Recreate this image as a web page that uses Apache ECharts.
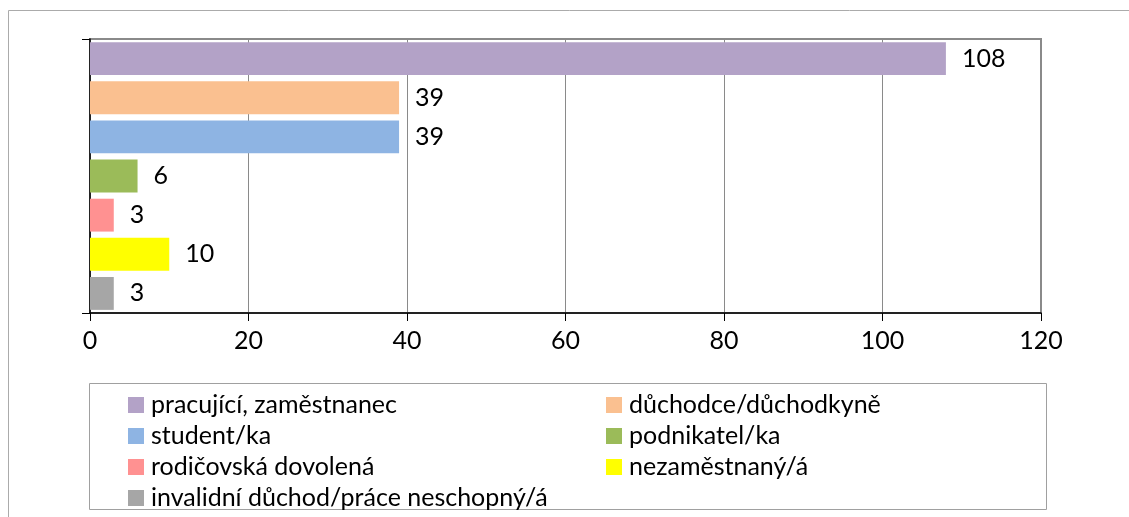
<!DOCTYPE html>
<html><head><meta charset="utf-8">
<script src="https://cdn.jsdelivr.net/npm/echarts@6/dist/echarts.min.js"></script>
<style>html,body{margin:0;padding:0;background:#fff}#c{width:1129px;height:517px}</style>
</head><body><div id="c"></div>
<script>
const categories = ["pracující, zaměstnanec","důchodce/důchodkyně","student/ka","podnikatel/ka","rodičovská dovolená","nezaměstnaný/á","invalidní důchod/práce neschopný/á"];
const values = [108, 39, 39, 6, 3, 10, 3];
const colors = ["#B3A2C7","#FAC090","#8EB4E3","#9BBB59","#FF9191","#FFFF00","#A6A6A6"];
const xTicks = [0, 20, 40, 60, 80, 100, 120];
const legendCol1 = [categories[0], categories[2], categories[4], categories[6]];
const legendCol2 = [categories[1], categories[3], categories[5]];

const FONT = 'Lato';
const series = categories.map((name, i) => ({
  name: name,
  type: 'bar',
  stack: 'all',
  barWidth: '84%',
  itemStyle: {color: colors[i]},
  label: {show: true, position: 'right', distance: 16, color: '#000', fontFamily: FONT, fontSize: 25},
  data: categories.map((c, j) => j === i ? values[i] : null)
}));

const chart = echarts.init(document.getElementById('c'));
const legendCommon = {
  orient: 'vertical', top: 387, height: 140, itemWidth: 16, itemHeight: 16, itemGap: 5, icon: 'rect',
  textStyle: {fontFamily: FONT, fontSize: 25, color: '#000', lineHeight: 26, padding: [0,0,0,2]},
  selectedMode: false
};
chart.setOption({
  animation: false,
  graphic: [
    {type: 'rect', shape: {x: 8.5, y: 10.5, width: 1130, height: 520}, style: {fill: 'none', stroke: '#ababab', lineWidth: 1}, z: -10},
    {type: 'rect', shape: {x: 89.5, y: 383.5, width: 957, height: 126}, style: {fill: 'none', stroke: '#a0a0a0', lineWidth: 1}, z: -5}
  ],
  grid: {left: 90, right: 88, top: 39, bottom: 204, show: true, borderColor: '#8a8a8a', borderWidth: 2, containLabel: false},
  xAxis: {
    type: 'value', min: 0, max: 120, interval: 20,
    axisLine: {show: true, lineStyle: {color: '#000', width: 1.5}},
    axisTick: {show: true, length: 8, lineStyle: {color: '#000'}},
    axisLabel: {color: '#000', fontFamily: FONT, fontSize: 25, margin: 15, formatter: v => xTicks.includes(v) ? String(v) : ''},
    splitLine: {show: true, lineStyle: {color: '#8a8a8a', width: 1}}
  },
  yAxis: {
    type: 'category', data: categories, inverse: true,
    axisLine: {show: true, lineStyle: {color: '#000', width: 1.5}},
    axisTick: {show: true, length: 8, lineStyle: {color: '#000'}, interval: (idx) => idx === 0},
    axisLabel: {show: false}
  },
  legend: [
    Object.assign({left: 123, data: legendCol1}, legendCommon),
    Object.assign({left: 601, data: legendCol2}, legendCommon)
  ],
  series: series
});
</script></body></html>
